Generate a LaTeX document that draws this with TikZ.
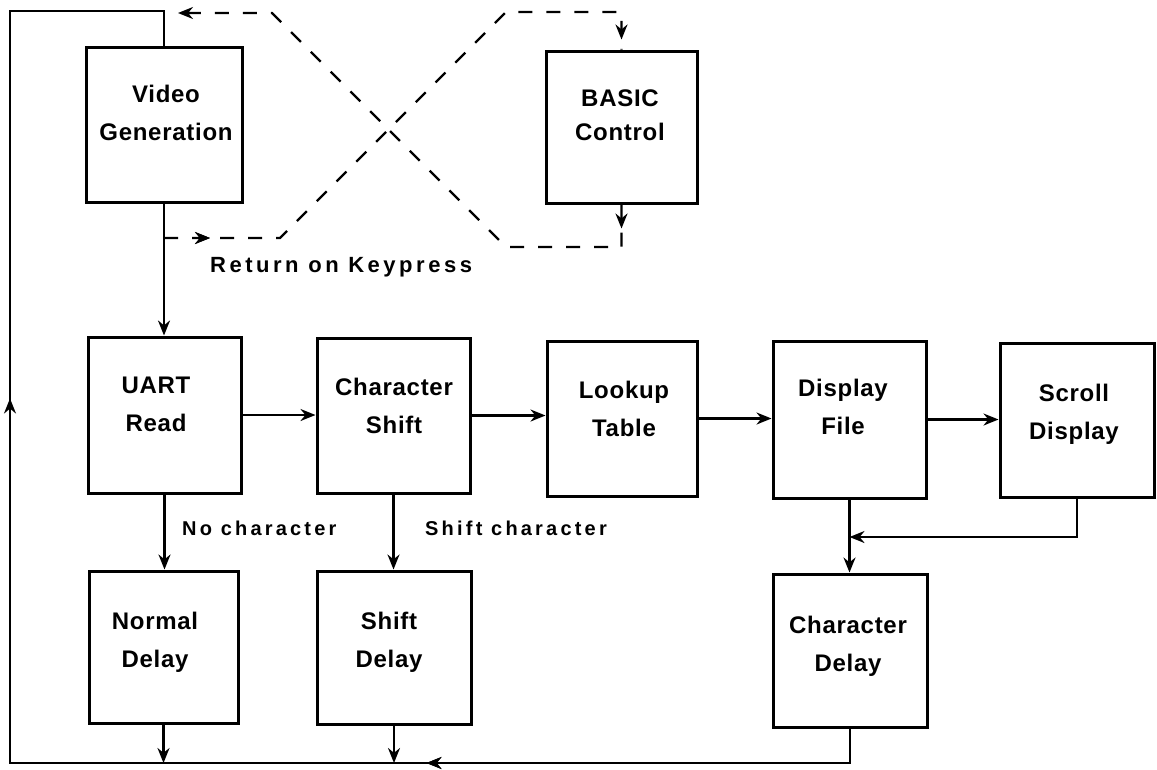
\documentclass[tikz,border=0pt]{standalone}
\usepackage{fontspec}
\setmainfont{Liberation Sans}
\newfontfamily\hand[LetterSpace=3]{Liberation Sans}
\newfontfamily\handwide[LetterSpace=16]{Liberation Sans}
\usetikzlibrary{arrows.meta,decorations.markings}
\begin{document}
\begin{tikzpicture}[x=1pt,y=-1pt,
  blk/.style={draw,line width=3pt,inner sep=0pt,minimum width=153pt,minimum height=155pt},
  txt/.style={align=center,inner sep=0pt,font=\hand\bfseries\fontsize{24}{38}\selectfont},
  lbl/.style={inner sep=0pt,font=\handwide\bfseries\fontsize{20}{22}\selectfont},
  conn/.style={line width=2.2pt,line join=miter},
  arr/.style={conn,-{Stealth[length=15pt,width=12pt]}},
  dsh/.style={line width=2.2pt,dash pattern=on 14pt off 14pt},
  midarrow/.style={postaction={decorate},decoration={markings,mark=at position #1 with {\arrow{Stealth[length=15pt,width=12pt]}}}}
]
\useasboundingbox (0,0) rectangle (1157,769);
\fill[white] (0,0) rectangle (1157,769);

% boxes
\node[blk,minimum width=156pt] (video) at (164,124.5) {};
\node[blk,minimum width=151pt,minimum height=152pt] (basic) at (621.5,127) {};
\node[blk,minimum height=156pt] (uart) at (164.5,415) {};
\node[blk] (cshift) at (393.5,415.5) {};
\node[blk,minimum width=150pt] (lookup) at (622,418.5) {};
\node[blk,minimum height=157pt] (dfile) at (849.5,419.5) {};
\node[blk,minimum width=154pt,minimum height=154pt] (scroll) at (1077,420) {};
\node[blk,minimum width=149pt,minimum height=152pt] (ndelay) at (163.5,647) {};
\node[blk,minimum width=154pt,minimum height=153pt] (sdelay) at (394,647.5) {};
\node[blk,minimum width=154pt,minimum height=153pt] (cdelay) at (850,650.5) {};

% box texts
\node[txt] (tvideo) at (166,113) {Video\\Generation};
\node[txt,font=\hand\bfseries\fontsize{24}{34}\selectfont] (tbasic) at (620,115) {BASIC\\Control};
\node[txt] (tuart) at (156,404) {UART\\Read};
\node[txt] (tcshift) at (394,406) {Character\\Shift};
\node[txt] (tlookup) at (624,409) {Lookup\\Table};
\node[txt] (tdfile) at (843,407) {Display\\File};
\node[txt] (tscroll) at (1074,414) {Scroll\\Display};
\node[txt] (tndelay) at (155,642) {Normal\\Delay};
\node[txt] (tsdelay) at (389,642) {Shift\\Delay};
\node[txt] (tcdelay) at (848,646) {Character\\Delay};

% labels
\node[lbl,anchor=base west] (lnoch) at (182,535) {No character};
\node[lbl,anchor=base west] (lshch) at (425,535) {Shift character};
\node[lbl,anchor=base west,font=\handwide\bfseries\fontsize{22}{24}\selectfont] (lret) at (210,272) {Return on Keypress};

% coordinates
\coordinate (c1) at (10,763);
\coordinate (c2) at (10,11);
\coordinate (sj) at (1078,537);
\coordinate (a0) at (164,238);
\coordinate (a1) at (280,238);
\coordinate (a2) at (506,12);
\coordinate (b1) at (621.5,247);
\coordinate (b2) at (506,247);
\coordinate (b3) at (272,13);
\coordinate (b4) at (178,13);

% main flow
\draw[arr] (video.south) -- (video.south |- uart.north);
\draw[arr] (uart.east) -- (uart.east -| cshift.west);
\draw[arr] (cshift.east) -- (cshift.east -| lookup.west);
\draw[arr] (lookup.east) -- (lookup.east -| dfile.west);
\draw[arr] (dfile.east) -- (dfile.east -| scroll.west);
\draw[arr] (uart.south) -- (uart.south |- ndelay.north);
\draw[arr] (cshift.south) -- (cshift.south |- sdelay.north);
\draw[arr] (dfile.south) -- (dfile.south |- cdelay.north);
\draw[arr] (scroll.south) -- (scroll.south |- sj) -- (dfile.south |- sj);
\draw[arr] (ndelay.south) -- (ndelay.south |- c1);
\draw[arr] (sdelay.south) -- (sdelay.south |- c1);

% return loop
\draw[conn,midarrow=458pt,postaction={decorate,decoration={markings,mark=at position 1239pt with {\arrow{Stealth[length=15pt,width=12pt]}}}}]
  (cdelay.south) -- (cdelay.south |- c1) -- (c1) -- (c2) -- (video.north |- c2) -- (video.north);

% dashed BASIC paths
\draw[dsh,midarrow=46pt,postaction={decorate,decoration={markings,mark=at position -10pt with {\arrow{Stealth[length=15pt,width=12pt]}}}}]
  (a0) -- (a1) -- (a2) -- (basic.north |- a2) -- (basic.north);
\draw[dsh,midarrow=24pt,-{Stealth[length=15pt,width=12pt]}]
  (basic.south) -- (b1) -- (b2) -- (b3) -- (b4);
\end{tikzpicture}
\end{document}
